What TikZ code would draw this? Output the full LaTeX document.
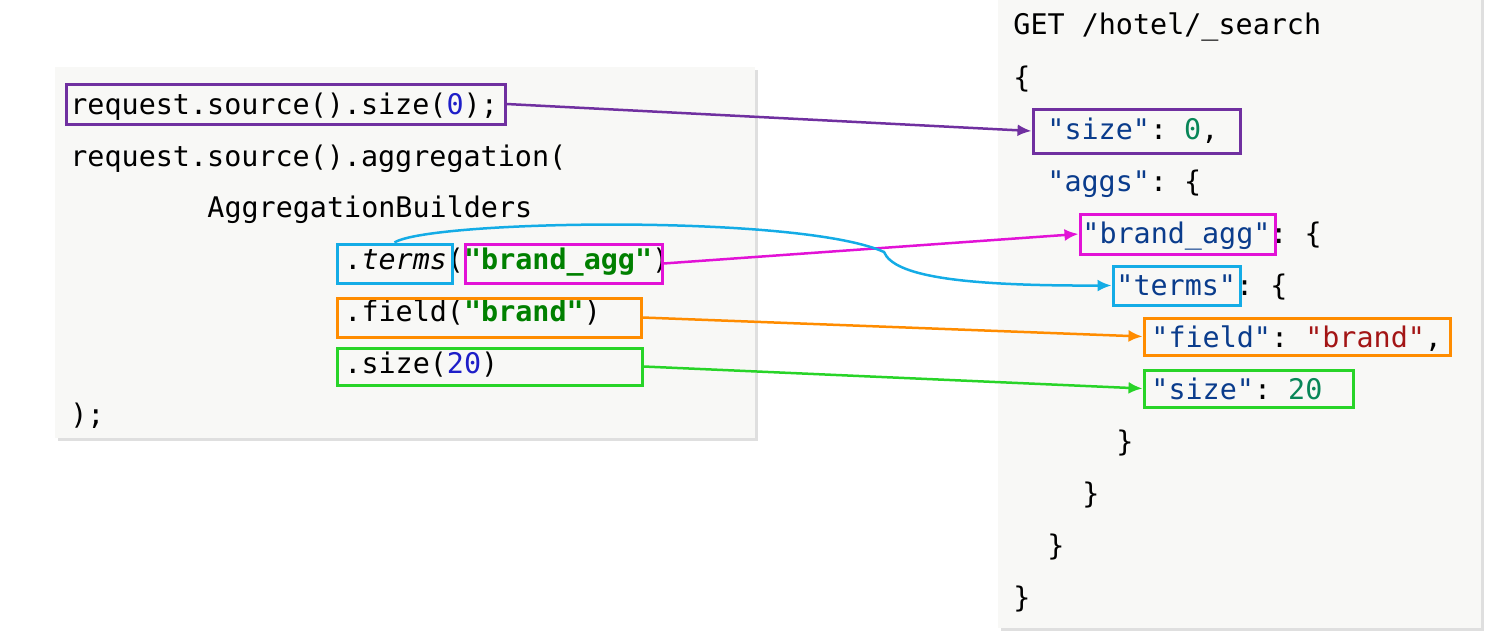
\documentclass[tikz,border=0pt]{standalone}
\usepackage{fontspec}
\setmonofont{DejaVu Sans Mono}
\usetikzlibrary{fit,shadows,arrows.meta}

\definecolor{cpurple}{RGB}{112,48,160}
\definecolor{cmagenta}{RGB}{226,18,214}
\definecolor{cblue}{RGB}{20,172,230}
\definecolor{corange}{RGB}{255,140,0}
\definecolor{cgreen}{RGB}{40,212,40}
\definecolor{panel}{RGB}{248,248,246}
\definecolor{numblue}{RGB}{30,30,200}
\definecolor{strgreen}{RGB}{0,128,0}
\definecolor{keyblue}{RGB}{10,60,140}
\definecolor{numgreen}{RGB}{9,134,88}
\definecolor{valred}{RGB}{163,21,21}

\newcommand{\codefont}{\fontsize{14.2}{17}\selectfont\ttfamily}
\newcommand{\strg}[1]{\textbf{\textcolor{strgreen}{#1}}}
\newcommand{\jkey}[1]{\textcolor{keyblue}{#1}}

\tikzset{
  code/.style={anchor=base west, inner sep=0pt, font=\codefont},
  hl/.style={draw=#1, line width=1.5pt, inner sep=0pt},
  link/.style={draw=#1, line width=1.25pt, -{Latex[length=7pt,width=6pt]}},
  card/.style={fill=panel, drop shadow={shadow xshift=1.5pt, shadow yshift=-1.5pt, opacity=0.25}}
}

\begin{document}
\begin{tikzpicture}[x=0.5pt,y=-0.5pt]
      \useasboundingbox (0,0) rectangle (1498,637);

      % Panels
      \fill[card] (55,67) rectangle (755,438);
      \fill[card] (998,-10) rectangle (1481,628);

      % Java code
      \node[code] (j1) at (70,114) {request.source().size(\textcolor{numblue}{0});};
      \node[code] (j2) at (70,166) {request.source().aggregation(};
      \node[code] (j3) at (207,217) {AggregationBuilders};
      \node[code] (j4) at (344,269) {.\textit{terms}(\strg{"brand\_agg"})};
      \node[code] (j5) at (344,321) {.field(\strg{"brand"})};
      \node[code] (j6) at (344,373) {.size(\textcolor{numblue}{20})};
      \node[code] (j7) at (70,424) {);};

      % DSL request
      \node[code] (d1) at (1013,34) {GET /hotel/\_search};
      \node[code] (d2) at (1013,87) {\{};
      \node[code] (d3) at (1047,139) {\jkey{"size"}: \textcolor{numgreen}{0},};
      \node[code] (d4) at (1047,191) {\jkey{"aggs"}: \{};
      \node[code] (d5) at (1082,243) {\jkey{"brand\_agg"}: \{};
      \node[code] (d6) at (1116,295) {\jkey{"terms"}: \{};
      \node[code] (d7) at (1151,347) {\jkey{"field"}: \textcolor{valred}{"brand"},};
      \node[code] (d8) at (1151,399) {\jkey{"size"}: \textcolor{numgreen}{20}};
      \node[code] (d9) at (1116,451) {\}};
      \node[code] (d10) at (1082,503) {\}};
      \node[code] (d11) at (1047,555) {\}};
      \node[code] (d12) at (1013,607) {\}};

      % Highlight boxes
      \node[hl=cpurple, fit={(66,84) (505,124)}] (lsize) {};
      \node[hl=cblue, fit={(337,244) (452,283)}] (lterms) {};
      \node[hl=cmagenta, fit={(465,244) (662,283)}] (lagg) {};
      \node[hl=corange, fit={(337,298) (641,337)}] (lfield) {};
      \node[hl=cgreen, fit={(337,348) (642,385)}] (lsz) {};

      \node[hl=cpurple, fit={(1033,109) (1240,153)}] (rsize) {};
      \node[hl=cmagenta, fit={(1080,214) (1275,254)}] (ragg) {};
      \node[hl=cblue, fit={(1113,266) (1240,305)}] (rterms) {};
      \node[hl=corange, fit={(1144,318) (1450,355)}] (rfield) {};
      \node[hl=cgreen, fit={(1144,370) (1353,407)}] (rsz) {};

      % Connectors
      \coordinate (kink) at (884,252);
      \draw[link=cpurple] (lsize.east) -- (rsize.west);
      \draw[link=cmagenta] (lagg.east) -- (ragg.west);
      \draw[link=cblue] (lterms.north) .. controls (430,220) and (800,214) .. (kink)
        .. controls (894,276) and (960,286) .. (rterms.west);
      \draw[link=corange] (lfield.east) -- (rfield.west);
      \draw[link=cgreen] (lsz.east) -- (rsz.west);
\end{tikzpicture}
\end{document}
